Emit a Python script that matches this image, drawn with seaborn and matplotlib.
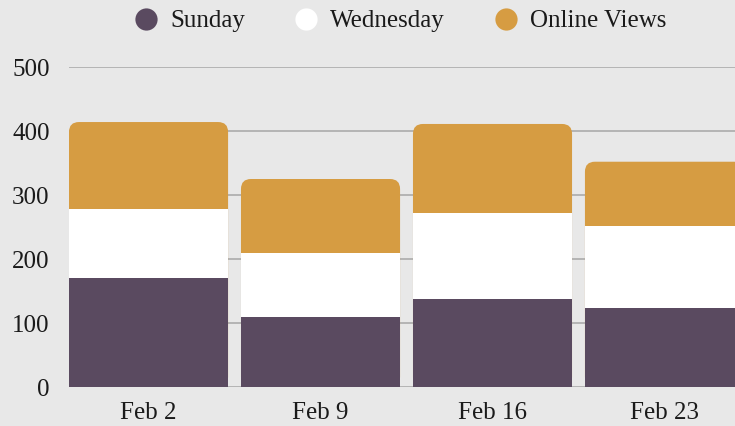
import seaborn as sns
import matplotlib.pyplot as plt
import pandas as pd
from matplotlib.lines import Line2D
from matplotlib.patches import FancyBboxPatch

weeks = ["Feb 2", "Feb 9", "Feb 16", "Feb 23"]
sunday = [170, 110, 138, 124]
wednesday = [108, 100, 134, 128]
online_views = [136, 115, 139, 100]

series_names = ["Sunday", "Wednesday", "Online Views"]
series_colors = ["#5a4a60", "#ffffff", "#d69c42"]
bg = "#e8e8e8"

df = pd.DataFrame({"week": weeks, "Sunday": sunday,
                   "Wednesday": wednesday, "Online Views": online_views})
# cumulative heights for a layered stack
df["top_wed"] = df["Sunday"] + df["Wednesday"]
df["top_all"] = df["top_wed"] + df["Online Views"]

sns.set_theme(style="white")
plt.rcParams["font.family"] = ["Liberation Serif", "DejaVu Serif"]

fig = plt.figure(figsize=(7.35, 4.26), dpi=100, facecolor=bg)
ax = fig.add_axes([69 / 735, 39 / 426, 1 - 69 / 735, 320 / 426])
ax.set_facecolor(bg)

bar_w = 0.925
sns.barplot(data=df, x="week", y="top_all", order=weeks, color=series_colors[2],
            width=bar_w, saturation=1, ax=ax, zorder=2)
n_top = len(ax.patches)
sns.barplot(data=df, x="week", y="top_wed", order=weeks, color=series_colors[1],
            width=bar_w, saturation=1, ax=ax, zorder=3)
sns.barplot(data=df, x="week", y="Sunday", order=weeks, color=series_colors[0],
            width=bar_w, saturation=1, ax=ax, zorder=4)

ax.set_xlim(-0.4625, 3.41)
ax.set_ylim(0, 500)

# round the top corners of the full-height (orange) bars
fig.canvas.draw()
x_px = ax.transData.transform([(0, 0), (1, 0)])
y_px = ax.transData.transform([(0, 0), (0, 1)])
aspect = (1 / abs(y_px[1][1] - y_px[0][1])) / (1 / abs(x_px[1][0] - x_px[0][0]))
for p in list(ax.patches[:n_top]):
    rb = FancyBboxPatch((p.get_x(), p.get_y()), p.get_width(), p.get_height(),
                        boxstyle="round,pad=0,rounding_size=0.058",
                        mutation_aspect=aspect, facecolor=p.get_facecolor(),
                        edgecolor="none", zorder=2)
    p.remove()
    ax.add_patch(rb)

for p in ax.patches:
    p.set_edgecolor("none")

ax.set_yticks(range(0, 501, 100))
ax.yaxis.grid(True, color="#b4b4b4", linewidth=1.4, zorder=0)
ax.set_axisbelow(True)
ax.tick_params(axis="both", length=0, labelsize=18, colors="#1a1a1a")
ax.tick_params(axis="y", pad=14)
ax.tick_params(axis="x", pad=11)
ax.set_xlabel("")
ax.set_ylabel("")
for s in ax.spines.values():
    s.set_visible(False)

handles = [Line2D([], [], marker="o", linestyle="none", markersize=16,
                  markerfacecolor=c, markeredgecolor="none", label=n)
           for n, c in zip(series_names, series_colors)]
fig.legend(handles=handles, loc="center", bbox_to_anchor=(400 / 735, 1 - 21 / 426),
           ncol=3, frameon=False, fontsize=18, handlelength=1.0, handletextpad=0.46,
           columnspacing=1.94, labelcolor="#1a1a1a", borderaxespad=0, borderpad=0)

fig.savefig("out.png", dpi=100, facecolor=bg)
